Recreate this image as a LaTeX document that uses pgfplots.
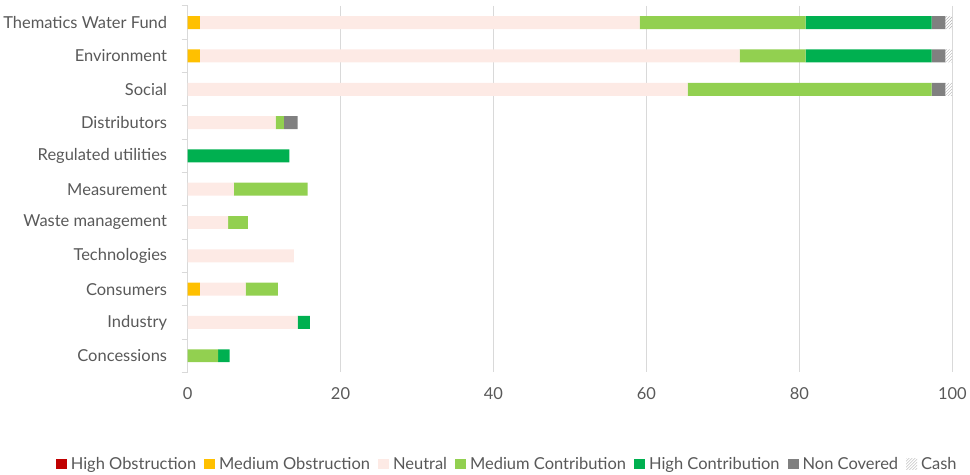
\documentclass[border=0pt]{standalone}
\usepackage{pgfplots}
\pgfplotsset{compat=1.18}
\usepackage{fontspec}
\setmainfont{Lato}
\usetikzlibrary{patterns}
\definecolor{cHO}{HTML}{C00000}
\definecolor{cMO}{HTML}{FFC000}
\definecolor{cNE}{HTML}{FDEAE5}
\definecolor{cMC}{HTML}{92D050}
\definecolor{cHC}{HTML}{00B050}
\definecolor{cNC}{HTML}{808080}
\definecolor{cGR}{HTML}{D9D9D9}
\definecolor{cTX}{HTML}{595959}
\begin{document}
\begin{tikzpicture}
\begin{axis}[
  scale only axis,
  width=766pt, height=367pt,
  xbar stacked,
  bar width=13pt,
  y dir=reverse,
  xmin=0, xmax=100,
  ymin=-0.5, ymax=10.5,
  xtick={0,20,...,100},
  ytick={0,...,10},
  yticklabels={Thematics Water Fund,Environment,Social,Distributors,Regulated utilities,Measurement,Waste management,Technologies,Consumers,Industry,Concessions},
  minor ytick={-0.5,0.5,...,10.5},
  major tick length=0pt,
  minor tick length=6pt,
  tick align=outside,
  ytick pos=left, xtick pos=bottom,
  minor tick style={cGR, line width=1pt},
  xmajorgrids,
  grid style={cGR, line width=1.5pt},
  axis line style={draw=none},
  tick label style={font=\fontsize{16.5}{19}\selectfont, text=cTX},
  /pgf/number format/assume math mode=true,
  xticklabel style={yshift=-12pt},
  yticklabel style={xshift=-17pt},
  legend style={draw=none, at={(0.418,-0.25)}, anchor=center, legend columns=-1,
    font=\fontsize{16.5}{19}\selectfont, text=cTX,
    /tikz/every even column/.append style={column sep=6pt},
    /tikz/every odd column/.append style={column sep=2pt}},
  leg/.style={legend image code/.code={\path[##1, draw=none] (0pt,-5.5pt) rectangle (11pt,5.5pt);}},
]
\addplot[fill=cHO, draw=none, leg] coordinates {(0,0) (0,1) (0,2) (0,3) (0,4) (0,5) (0,6) (0,7) (0,8) (0,9) (0,10)};
\addplot[fill=cMO, draw=none, leg] coordinates {(1.6,0) (1.6,1) (0,2) (0,3) (0,4) (0,5) (0,6) (0,7) (1.6,8) (0,9) (0,10)};
\addplot[fill=cNE, draw=none, leg] coordinates {(57.5,0) (70.6,1) (65.4,2) (11.5,3) (0,4) (6.05,5) (5.3,6) (13.9,7) (6.0,8) (14.4,9) (0,10)};
\addplot[fill=cMC, draw=none, leg] coordinates {(21.7,0) (8.6,1) (31.9,2) (1.1,3) (0,4) (9.65,5) (2.6,6) (0,7) (4.2,8) (0,9) (4.0,10)};
\addplot[fill=cHC, draw=none, leg] coordinates {(16.5,0) (16.5,1) (0,2) (0,3) (13.3,4) (0,5) (0,6) (0,7) (0,8) (1.6,9) (1.5,10)};
\addplot[fill=cNC, draw=none, leg] coordinates {(1.8,0) (1.8,1) (1.8,2) (1.8,3) (0,4) (0,5) (0,6) (0,7) (0,8) (0,9) (0,10)};
\addplot[pattern=north east lines, pattern color=gray!60, draw=none, leg] coordinates {(0.9,0) (0.9,1) (0.9,2) (0,3) (0,4) (0,5) (0,6) (0,7) (0,8) (0,9) (0,10)};
\legend{High Obstruction,Medium Obstruction,Neutral,Medium Contribution,High Contribution,Non Covered,Cash}
\end{axis}
\path (current axis.north west) ++(0,6pt);
\end{tikzpicture}
\end{document}
